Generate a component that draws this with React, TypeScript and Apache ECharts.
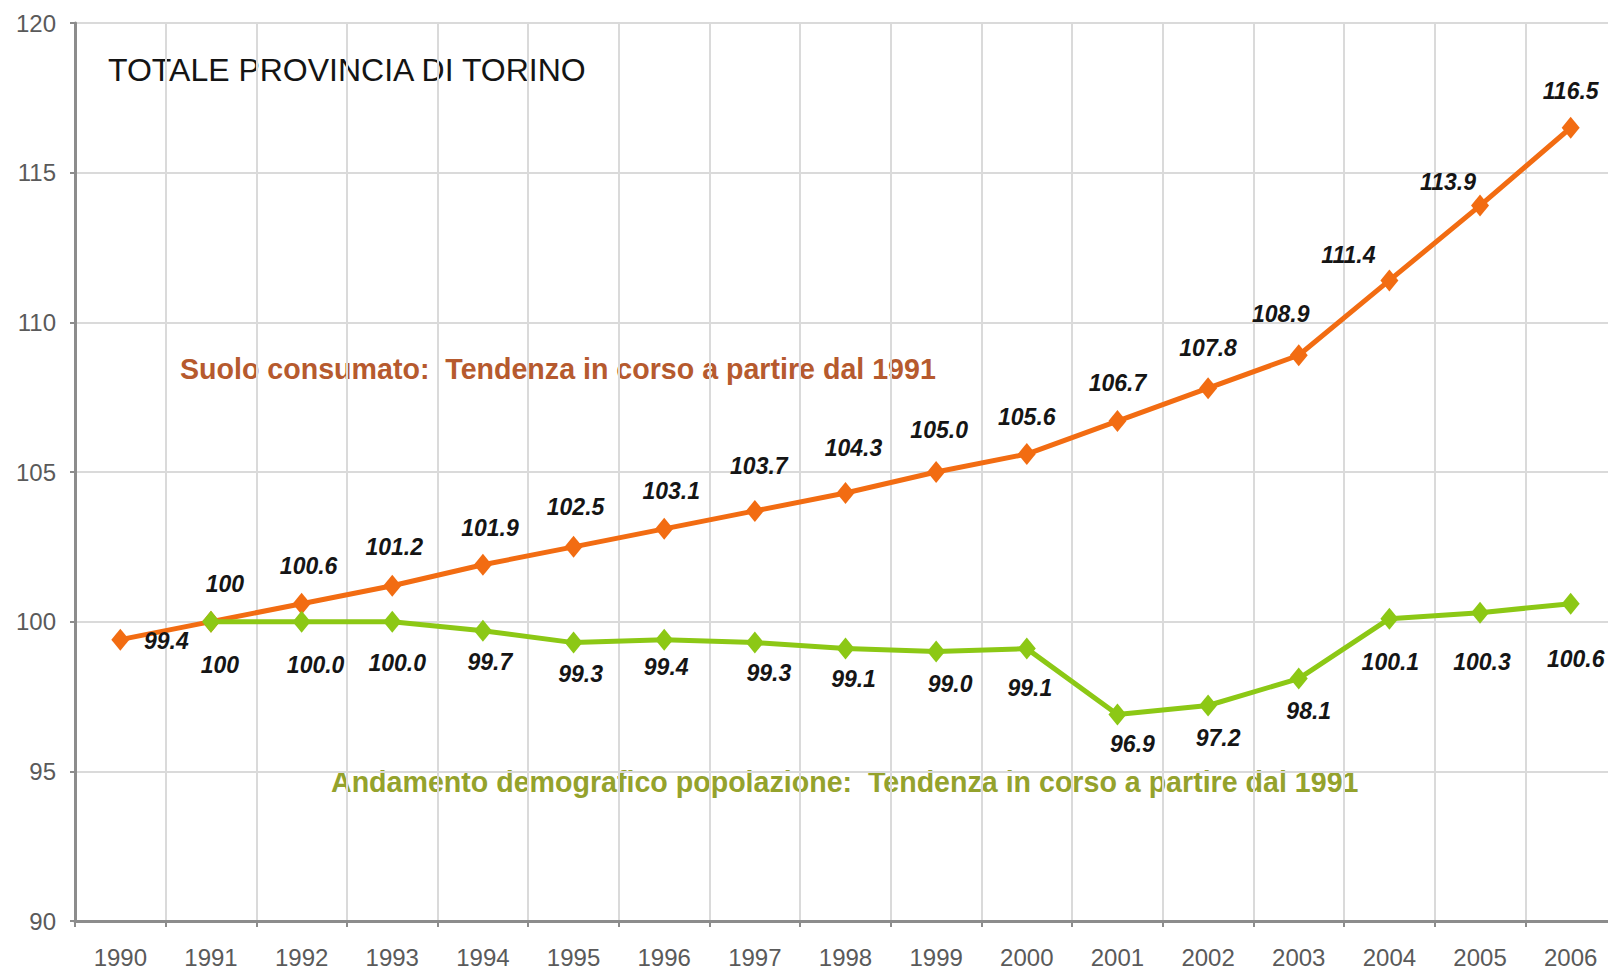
import React, { useEffect, useRef } from "react";
import * as echarts from "echarts";

const years = ["1990", "1991", "1992", "1993", "1994", "1995", "1996", "1997", "1998", "1999", "2000", "2001", "2002", "2003", "2004", "2005", "2006"];
const suoloConsumato = [99.4, 100, 100.6, 101.2, 101.9, 102.5, 103.1, 103.7, 104.3, 105.0, 105.6, 106.7, 107.8, 108.9, 111.4, 113.9, 116.5];
const popolazione = [null, 100, 100.0, 100.0, 99.7, 99.3, 99.4, 99.3, 99.1, 99.0, 99.1, 96.9, 97.2, 98.1, 100.1, 100.3, 100.6];
const yMin = 90;
const yMax = 120;
const yStep = 5;

const titleText = "TOTALE PROVINCIA DI TORINO";
const suoloText = "Suolo consumato:  Tendenza in corso a partire dal 1991";
const popText = "Andamento demografico popolazione:  Tendenza in corso a partire dal 1991";

// label placement (style), relative to each point
const suoloLabelOffsets = [
  [46, 1], [14, -38], [7, -38], [2, -39], [7, -37], [2, -40], [7, -38], [4, -45], [8, -45],
  [3, -42], [0, -37], [0, -38], [0, -40], [-18, -41], [-41, -25], [-32, -24], [0, -37],
];
const popLabelOffsets = [
  [0, 0], [9, 43], [14, 43], [5, 41], [7, 31], [7, 31], [2, 27], [14, 30], [8, 30],
  [14, 32], [3, 39], [15, 30], [10, 33], [10, 32], [1, 43], [2, 49], [5, 55],
];

const ORANGE = "#f26c12";
const GREEN = "#8cc815";
const FONT = "'Liberation Sans', Arial, Helvetica, sans-serif";

const labelText = (v: number, i: number) => (i === 1 ? String(Math.round(v)) : v.toFixed(1));

function buildData(values: (number | null)[], offsets: number[][]) {
  return values.map((v, i) =>
    v === null
      ? null
      : {
          value: v,
          label: { offset: offsets[i] },
        }
  );
}

export default function App() {
  const ref = useRef<HTMLDivElement>(null);
  useEffect(() => {
    if (!ref.current) return;
    const chart = echarts.init(ref.current, null, { renderer: "svg" });
    const labelStyle = {
      show: true,
      position: "inside",
      fontFamily: FONT,
      fontSize: 23,
      fontWeight: "bold",
      fontStyle: "italic",
      color: "#151515",
      formatter: (p: any) => labelText(p.value as number, p.dataIndex),
    };
    chart.setOption({
      animation: false,
      backgroundColor: "#ffffff",
      grid: { left: 75, right: 0, top: 23, bottom: 48, containLabel: false },
      xAxis: {
        type: "category",
        data: years,
        boundaryGap: true,
        axisLine: { show: true, lineStyle: { color: "#8c8c8c", width: 3 } },
        axisTick: { show: true, length: 6, lineStyle: { color: "#8c8c8c", width: 2 } },
        axisLabel: { color: "#5a5a5a", fontSize: 24, fontFamily: FONT, margin: 24 },
        splitLine: { show: true, interval: 0, lineStyle: { color: "#dadada", width: 2 } },
      },
      yAxis: {
        type: "value",
        min: yMin,
        max: yMax,
        interval: yStep,
        axisLine: { show: true, lineStyle: { color: "#8c8c8c", width: 3 } },
        axisTick: { show: true, length: 5, lineStyle: { color: "#8c8c8c", width: 2 } },
        axisLabel: { color: "#5a5a5a", fontSize: 24, fontFamily: FONT, margin: 19 },
        splitLine: { show: true, lineStyle: { color: "#dadada", width: 2 } },
      },
      graphic: [
        {
          type: "text",
          x: 108,
          y: 70,
          style: { text: titleText, fontSize: 32, fontFamily: FONT, fill: "#141414", verticalAlign: "middle" },
        },
        {
          type: "text",
          x: 180,
          y: 369,
          style: { text: suoloText, fontSize: 28.6, fontWeight: "bold", fontFamily: FONT, fill: "#b65a2e", verticalAlign: "middle" },
        },
        {
          type: "text",
          x: 331,
          y: 782,
          style: { text: popText, fontSize: 28.6, fontWeight: "bold", fontFamily: FONT, fill: "#94a22c", verticalAlign: "middle" },
        },
      ],
      series: [
        {
          name: "Suolo consumato",
          type: "line",
          data: buildData(suoloConsumato, suoloLabelOffsets),
          symbol: "diamond",
          symbolSize: [18, 22],
          lineStyle: { color: ORANGE, width: 5 },
          itemStyle: { color: ORANGE },
          label: labelStyle,
          z: 3,
        },
        {
          name: "Popolazione",
          type: "line",
          data: buildData(popolazione, popLabelOffsets),
          symbol: "diamond",
          symbolSize: [18, 22],
          connectNulls: false,
          lineStyle: { color: GREEN, width: 5 },
          itemStyle: { color: GREEN },
          label: labelStyle,
          z: 4,
        },
      ],
    });
    return () => chart.dispose();
  }, []);
  return (
    <div
      ref={ref}
      style={{ position: "fixed", left: 0, top: 0, width: 1616, height: 969, background: "#fff" }}
    />
  );
}
